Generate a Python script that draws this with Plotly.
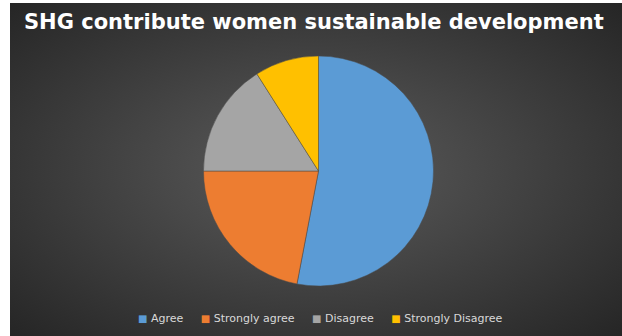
import base64
import plotly.graph_objects as go

# Data
categories = ["Agree", "Strongly agree", "Disagree", "Strongly Disagree"]
values = [53, 22, 16, 9]
colors = ["#5B9BD5", "#ED7D31", "#A5A5A5", "#FFC000"]
title_text = "SHG contribute women sustainable development"

W, H = 622, 336

svg = (
    '<svg xmlns="http://www.w3.org/2000/svg" width="612" height="333" viewBox="0 0 612 333" preserveAspectRatio="none">'
    '<defs><radialGradient id="g" cx="50%" cy="50%" r="70%">'
    '<stop offset="0%" stop-color="#5c5c5c"/>'
    '<stop offset="100%" stop-color="#262626"/>'
    '</radialGradient></defs>'
    '<rect x="0" y="0" width="612" height="333" fill="url(#g)"/></svg>'
)
bg_src = "data:image/svg+xml;base64," + base64.b64encode(svg.encode()).decode()

cx, cy, r = 318.5, 171, 115

fig = go.Figure(
    go.Pie(
        labels=categories,
        values=values,
        marker=dict(colors=colors, line=dict(color="#4a4a4a", width=0.5)),
        sort=False,
        direction="clockwise",
        rotation=0,
        textinfo="none",
        hoverinfo="label+value+percent",
        showlegend=False,
        domain=dict(
            x=[(cx - r) / W, (cx + r) / W],
            y=[(H - cy - r) / H, (H - cy + r) / H],
        ),
    )
)

legend_items = [
    f"<span style='color:{c};font-size:10px'>■</span> {lab}"
    for lab, c in zip(categories, colors)
]
legend_text = "&nbsp;&nbsp;&nbsp;&nbsp;&nbsp;".join(legend_items)

fig.update_layout(
    width=W,
    height=H,
    margin=dict(l=0, r=0, t=0, b=0),
    paper_bgcolor="white",
    showlegend=False,
    images=[
        dict(
            source=bg_src,
            xref="paper",
            yref="paper",
            x=10 / W,
            y=1 - 3 / H,
            sizex=(W - 10) / W,
            sizey=(H - 3) / H,
            xanchor="left",
            yanchor="top",
            sizing="stretch",
            layer="below",
        )
    ],
    annotations=[
        dict(
            text="<b>" + title_text + "</b>",
            xref="paper",
            yref="paper",
            x=314 / W,
            y=1 - 22 / H,
            xanchor="center",
            yanchor="middle",
            showarrow=False,
            font=dict(family="DejaVu Sans", size=21, color="white"),
        ),
        dict(
            text=legend_text,
            xref="paper",
            yref="paper",
            x=320 / W,
            y=1 - 318 / H,
            xanchor="center",
            yanchor="middle",
            showarrow=False,
            font=dict(family="DejaVu Sans", size=11, color="#d9d9d9"),
        ),
    ],
)

fig.write_html(
    "out.html",
    config={"displayModeBar": False},
    post_script="document.body.style.margin='0';document.body.style.overflow='hidden';",
)
